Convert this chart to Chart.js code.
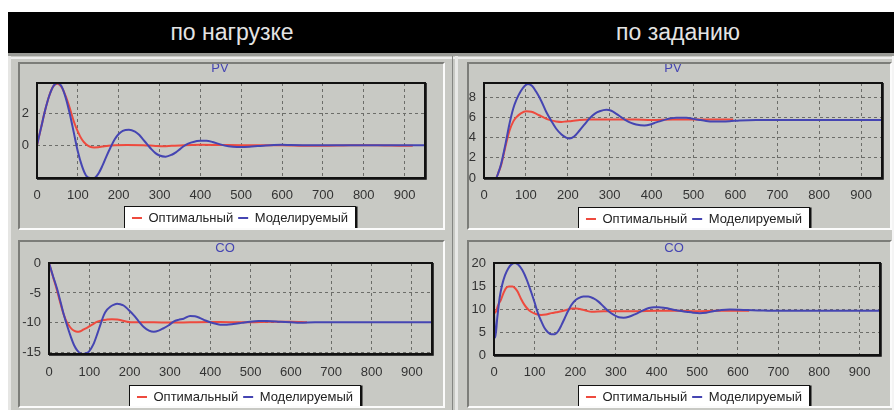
<!DOCTYPE html>
<html><head><meta charset="utf-8">
<script src="https://cdn.jsdelivr.net/npm/chart.js@4.4.0/dist/chart.umd.min.js"></script>
<style>
html,body{margin:0;padding:0;background:#fff;width:894px;height:410px;overflow:hidden;position:relative;font-family:"Liberation Sans",Arial,sans-serif}
#hdr{position:absolute;left:8px;top:12px;width:886px;height:41px;background:#000}
.ht{position:absolute;top:0;height:41px;line-height:40px;color:#e4e4e4;font-size:23px;transform:translateX(-50%);white-space:nowrap}
#bg{position:absolute;left:8px;top:53px;width:886px;height:357px;background:#c8c9c4}
.ln{position:absolute}
.panel{position:absolute;box-sizing:border-box;border:2px solid;border-color:#7c7d79 #fbfbfb #fbfbfb #7c7d79;overflow:hidden;background:#c8c9c4}
.panel canvas{position:absolute;left:0;top:-8px}
</style></head><body>
<div id="hdr"><span class="ht" style="left:224px">по нагрузке</span><span class="ht" style="left:670px">по заданию</span></div>
<div id="bg"></div>
<div class="ln" style="left:8px;top:53px;width:886px;height:3px;background:#9a9b97"></div>
<div class="ln" style="left:8px;top:57px;width:884px;height:2px;background:#ececec"></div>
<div class="ln" style="left:8px;top:56px;width:3px;height:354px;background:#e6e6e4"></div>
<div class="ln" style="left:452px;top:56px;width:1px;height:354px;background:#858682"></div>
<div class="ln" style="left:455px;top:56px;width:3px;height:354px;background:#e8e8e6"></div>
<div class="ln" style="left:892px;top:56px;width:2px;height:354px;background:#f4f4f4"></div>
<div class="panel" style="left:18px;top:62px;width:427px;height:168px"><canvas id="c1"></canvas></div>
<div class="panel" style="left:467px;top:62px;width:425px;height:168px"><canvas id="c2"></canvas></div>
<div class="panel" style="left:18px;top:240px;width:427px;height:168px"><canvas id="c3"></canvas></div>
<div class="panel" style="left:467px;top:240px;width:425px;height:168px"><canvas id="c4"></canvas></div>
<script>
// ---------- data ----------
const seriesNames = ['Оптимальный', 'Моделируемый'];
const headerTitles = ['по нагрузке', 'по заданию'];
const xTicks = [0, 100, 200, 300, 400, 500, 600, 700, 800, 900];
const xMax = 950;

// по нагрузке, PV
const loadPvOptT = [0,10,20,30,40,50,60,70,80,90,100,110,120,130,140,150,160,175,190,220,260,290,310,330,360,400,450,500,550,600,650,700,750,800,850,900,920];
const loadPvOpt  = [0,1.1,2.2,3.1,3.7,3.85,3.65,3.1,2.35,1.5,0.85,0.35,0.05,-0.1,-0.14,-0.13,-0.09,-0.03,0,0.01,0,-0.05,-0.07,-0.04,0,0.02,0.01,0,0,0,-0.03,-0.04,-0.02,0,-0.02,-0.04,-0.03];
const loadPvModT = [0,10,20,30,40,50,60,70,80,90,100,110,120,130,140,150,160,170,180,190,200,210,225,240,250,260,270,280,290,300,315,330,340,350,360,370,385,400,415,430,445,460,480,500,520,540,560,580,600,620,650,700,750,800,850,900,950];
const loadPvMod  = [0,1.1,2.2,3.1,3.7,3.9,3.7,3.0,2.0,0.8,-0.4,-1.3,-1.9,-2.06,-2.06,-1.8,-1.3,-0.7,-0.15,0.35,0.7,0.9,0.97,0.85,0.65,0.35,0.05,-0.25,-0.5,-0.65,-0.72,-0.6,-0.45,-0.25,-0.05,0.1,0.22,0.27,0.28,0.2,0.08,-0.03,-0.1,-0.12,-0.1,-0.06,-0.02,0.01,0.02,0.01,0,-0.01,0,0,0,0,0];
const loadPvTicks = [0, 2];

// по заданию, PV
const setPvOptT = [0,28,35,41,50,61,70,77,88,101,113,125,137,149,160,172,185,196,210,228,250,280,320,360,400,450,500,550,595];
const setPvOpt  = [0,0,0.6,1.3,2.9,4.7,5.6,6.0,6.4,6.6,6.55,6.35,6.1,5.85,5.7,5.6,5.55,5.6,5.65,5.75,5.8,5.8,5.8,5.8,5.75,5.8,5.8,5.8,5.8];
const setPvModT = [0,28,35,41,50,61,70,77,88,97,105,115,125,137,149,160,172,185,196,204,215,228,240,252,264,276,292,304,316,328,339,351,363,383,397,411,423,435,459,483,500,514,530,546,566,586,610,650,700,800,950];
const setPvMod  = [0,0,0.6,1.4,3.1,5.4,6.9,7.7,8.6,9.1,9.3,9.1,8.5,7.6,6.5,5.7,4.9,4.3,4.0,3.9,4.1,4.7,5.3,5.9,6.35,6.6,6.75,6.65,6.35,6.0,5.7,5.45,5.3,5.2,5.3,5.5,5.65,5.8,5.95,5.95,5.85,5.75,5.65,5.6,5.6,5.62,5.7,5.75,5.75,5.75,5.75];
const setPvTicks = [0, 2, 4, 6, 8];

// по нагрузке, CO
const loadCoOptT = [0,10,20,29,37,43,49,56,63,70,78,86,95,107,120,132,144,156,169,181,194,210,227,260,300,350,400,450,500,550,600,640];
const loadCoOpt  = [0,-2.3,-4.6,-6.9,-8.7,-9.7,-10.4,-11.0,-11.35,-11.5,-11.4,-11.1,-10.8,-10.3,-9.8,-9.55,-9.45,-9.4,-9.45,-9.6,-9.8,-9.9,-9.9,-9.9,-9.95,-9.9,-9.85,-9.9,-9.9,-9.8,-9.8,-9.9];
const loadCoModT = [0,10,20,29,37,46,54,62,70,82,90,99,110,120,128,136,144,152,160,169,177,185,197,210,222,235,248,260,272,284,297,309,321,334,350,362,375,388,400,412,425,441,457,478,499,520,540,573,600,622,660,700,800,950];
const loadCoMod  = [0,-2.2,-4.3,-6.6,-8.7,-10.7,-12.3,-13.7,-14.6,-15.2,-15.1,-14.8,-13.6,-11.8,-10.2,-8.7,-7.8,-7.3,-7.0,-6.8,-6.9,-7.1,-7.8,-8.7,-9.7,-10.7,-11.3,-11.5,-11.3,-10.9,-10.4,-9.8,-9.5,-9.3,-8.85,-8.9,-9.2,-9.6,-9.9,-10.1,-10.3,-10.3,-10.2,-10.0,-9.8,-9.7,-9.7,-9.8,-9.9,-10,-9.9,-9.9,-9.9,-9.9];
const loadCoTicks = [-15, -10, -5, 0];

// по заданию, CO
const setCoOptT = [0,5,10,17,23,29,37,46,52,58,66,75,83,91,103,116,128,141,153,166,178,191,203,216,228,240,270,300,350,400,450,500,550,600,628];
const setCoOpt  = [9.0,9.5,10.8,12.0,13.4,14.5,14.9,14.9,14.5,13.8,12.3,10.9,10.0,9.4,8.9,8.7,8.8,9.1,9.3,9.5,9.8,10.1,10.1,9.9,9.6,9.4,9.5,9.5,9.5,9.6,9.6,9.5,9.6,9.6,9.6];
const setCoModT = [0,3,8,14,20,27,35,43,52,60,70,80,91,100,108,116,124,132,141,150,158,166,174,182,190,199,207,220,232,245,257,270,282,295,307,319,332,348,364,381,394,406,422,439,456,473,490,506,522,539,560,580,614,650,700,800,950];
const setCoMod  = [9.2,3.8,8.0,12.5,15.2,17.3,18.8,19.7,20,19.6,18.4,16.5,13.8,11.4,9.1,7.4,5.9,5.0,4.5,4.5,5.2,6.5,8.0,9.5,10.8,11.8,12.3,12.7,12.7,12.3,11.6,10.5,9.5,8.7,8.2,8.1,8.3,8.9,9.6,10.2,10.4,10.4,10.2,9.9,9.6,9.4,9.2,9.1,9.2,9.5,9.8,9.9,9.8,9.7,9.6,9.6,9.6];
const setCoTicks = [0, 5, 10, 15, 20];

// ---------- style / layout ----------
const FONT = '"Liberation Sans", Arial, sans-serif';
const RED = '#ee4a3e';
const BLUE = '#4545b2';
const BG = '#c8c9c4';
const GRID = '#6c6d69';
const HEADER_X = [232, 678];

document.querySelectorAll('.ht').forEach((el, i) => { el.textContent = headerTitles[i]; el.style.left = (HEADER_X[i] - 8) + 'px'; });

const LAYOUT = {
  c1: {panel:[18,62,427,168],  area:[37,83,425,178],  titleX:220, titleY:68,  xLabY:195, legY:218, legX:240},
  c2: {panel:[467,62,425,168], area:[484,83,882,178], titleX:673, titleY:68,  xLabY:195, legY:219, legX:694},
  c3: {panel:[18,240,427,168], area:[49,263,432,354], titleX:225, titleY:248, xLabY:372, legY:397, legX:245},
  c4: {panel:[467,240,425,168],area:[494,263,880,355],titleX:674, titleY:248, xLabY:372, legY:397, legX:694}
};

const panelLook = {
  id: 'panelLook',
  afterLayout(chart, args, o) {
    const t = chart.titleBlock, l = chart.legend;
    if (t) { const dx = o.titleX - (t.left + t.right) / 2; t.left += dx; t.right += dx; }
    if (l) { const dx = o.legX - (l.left + l.right) / 2; l.left += dx; l.right += dx; }
  },
  beforeDraw(chart, args, o) {
    const {ctx, legend: l} = chart;
    ctx.save();
    ctx.fillStyle = BG;
    ctx.fillRect(0, 0, chart.width, chart.height);
    const w = l.lineWidths[0] - l.options.labels.padding;
    const c = (l.left + l.right) / 2;
    const x0 = Math.round(c - w / 2 - 8) + 0.5, x1 = Math.round(c + w / 2 + 7) + 0.5;
    const y0 = Math.round(o.legYc - 12) + 0.5, y1 = Math.round(o.legYc + 11) + 0.5;
    ctx.fillStyle = '#fff';
    ctx.fillRect(x0, y0, x1 - x0, y1 - y0);
    ctx.strokeStyle = '#111';
    ctx.lineWidth = 1;
    ctx.strokeRect(x0, y0, x1 - x0, y1 - y0);
    ctx.lineWidth = 2;
    ctx.beginPath();
    ctx.moveTo(x1 + 1, y0); ctx.lineTo(x1 + 1, y1 + 1); ctx.lineTo(x0, y1 + 1);
    ctx.stroke();
    ctx.restore();
  },
  afterDatasetsDraw(chart) {
    const {ctx, chartArea: a} = chart;
    ctx.save();
    ctx.strokeStyle = '#111';
    ctx.lineWidth = 2;
    ctx.strokeRect(a.left, a.top, a.right - a.left, a.bottom - a.top);
    ctx.strokeStyle = '#3a3a3a';
    ctx.lineWidth = 1;
    ctx.beginPath();
    ctx.moveTo(a.right + 1.5, a.top); ctx.lineTo(a.right + 1.5, a.bottom + 1.5); ctx.lineTo(a.left, a.bottom + 1.5);
    ctx.stroke();
    ctx.restore();
  }
};

function pts(t, v) { return t.map((x, i) => ({x: x, y: v[i]})); }

function build(id, title, optT, opt, modT, mod, yMin, yMax, yTicks) {
  const L = LAYOUT[id];
  const [px, py, pw] = L.panel;
  const cx = px + 2, cy = py + 2 - 8, W = pw - 4;
  const [al, at, ar, ab] = L.area;
  const fsT = 13, lhT = fsT * 1.2, fsTick = 13, lhTick = fsTick * 1.2, fsL = 13, pL = 5;
  const yWidth = al - cx;
  const padRight = cx + W - ar;
  const tPadTop = L.titleY - cy - lhT / 2;
  const tPadBottom = at - cy - tPadTop - lhT;
  const legTop = L.legY - cy - pL - fsL / 2;
  const legH = fsL + pL + 10;
  const H = Math.ceil(legTop + legH);
  const padBottom = H - (legTop + legH);
  const xHeight = legTop - (ab - cy);
  const xPad = L.xLabY - ab - lhTick / 2;

  const cv = document.getElementById(id);
  cv.width = W; cv.height = H;
  cv.style.width = W + 'px'; cv.style.height = H + 'px';

  const tickFont = {family: FONT, size: fsTick};
  return new Chart(cv, {
    type: 'line',
    data: {
      datasets: [
        {label: seriesNames[0], data: pts(optT, opt), borderColor: RED, backgroundColor: RED, borderWidth: 2, pointRadius: 0, cubicInterpolationMode: 'monotone', order: 1},
        {label: seriesNames[1], data: pts(modT, mod), borderColor: BLUE, backgroundColor: BLUE, borderWidth: 2, pointRadius: 0, cubicInterpolationMode: 'monotone', order: 0}
      ]
    },
    options: {
      responsive: false,
      animation: false,
      devicePixelRatio: 1,
      layout: {padding: {left: 0, top: 0, right: padRight, bottom: padBottom}},
      scales: {
        x: {
          type: 'linear', min: 0, max: xMax,
          afterBuildTicks: s => { s.ticks = xTicks.map(v => ({value: v})); },
          afterFit: s => { s.height = xHeight; },
          grid: {color: GRID, lineWidth: 1, drawTicks: false},
          border: {display: false, dash: [3, 3]},
          ticks: {padding: xPad, color: '#333', font: tickFont, maxRotation: 0, autoSkip: false}
        },
        y: {
          type: 'linear', min: yMin, max: yMax,
          afterBuildTicks: s => { s.ticks = yTicks.map(v => ({value: v})); },
          afterFit: s => { s.width = yWidth; },
          grid: {color: GRID, lineWidth: 1, drawTicks: false},
          border: {display: false, dash: [3, 3]},
          ticks: {padding: 8, color: '#333', font: tickFont, autoSkip: false}
        }
      },
      plugins: {
        title: {display: true, text: title, color: BLUE, font: {family: FONT, size: fsT, weight: 'normal', lineHeight: 1.2}, padding: {top: tPadTop, bottom: tPadBottom}},
        legend: {
          display: true, position: 'bottom',
          labels: {
            font: {family: FONT, size: fsL}, color: '#222', boxWidth: 10, boxHeight: 2, padding: pL,
            sort: (a, b) => a.datasetIndex - b.datasetIndex,
            generateLabels: ch => Chart.defaults.plugins.legend.labels.generateLabels(ch).map(it => Object.assign(it, {lineWidth: 0, strokeStyle: 'rgba(0,0,0,0)'}))
          }
        },
        tooltip: {enabled: false},
        panelLook: {titleX: L.titleX - cx, legX: L.legX - cx, legYc: L.legY - cy}
      }
    },
    plugins: [panelLook]
  });
}

build('c1', 'PV', loadPvOptT, loadPvOpt, loadPvModT, loadPvMod, -2.06, 3.9, loadPvTicks);
build('c2', 'PV', setPvOptT, setPvOpt, setPvModT, setPvMod, 0, 9.4, setPvTicks);
build('c3', 'CO', loadCoOptT, loadCoOpt, loadCoModT, loadCoMod, -15.2, 0, loadCoTicks);
build('c4', 'CO', setCoOptT, setCoOpt, setCoModT, setCoMod, 0, 20, setCoTicks);
</script>
</body></html>
